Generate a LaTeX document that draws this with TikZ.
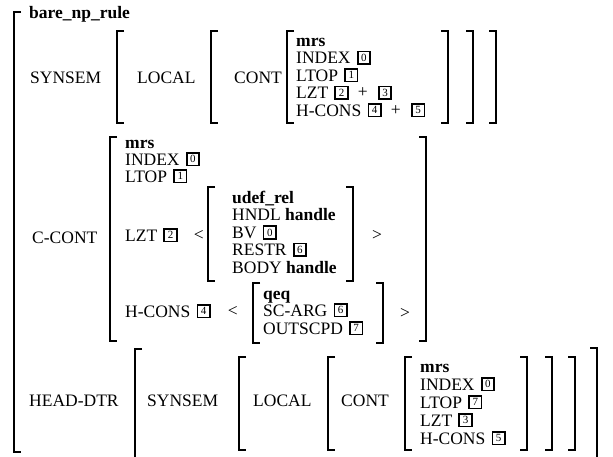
\documentclass[tikz,border=0pt]{standalone}
\usepackage{fontspec}
\setmainfont{Liberation Serif}
\usetikzlibrary{positioning}

\begin{document}
\begin{tikzpicture}[
  x=1pt, y=-1pt,
  feat/.style={inner sep=0pt, anchor=base west, font=\fontsize{17.5}{20}\selectfont},
  typ/.style={feat, font=\fontsize{17.5}{20}\selectfont\bfseries},
  sym/.style={inner sep=0pt, font=\fontsize{17.5}{20}\selectfont},
  tag/.style={draw, line width=1.7pt, inner sep=0pt, minimum size=12.5pt,
              font=\fontsize{11}{11}\selectfont},
  brk/.style={line width=1.8pt},
]
\useasboundingbox (0,0) rectangle (613,456);

% outer matrix
\draw[brk] (21,12) -| (14,452) -- ++(7,0);
\node[typ] (rule) at (29,18) {bare\_np\_rule};

% SYNSEM row
\node[feat] (syn1) at (30,83) {SYNSEM};
\node[feat] (loc1) at (137,83) {LOCAL};
\node[feat] (cont1) at (234,83) {CONT};
\draw[brk] (124,31) -| (117,123) -- ++(7,0);
\draw[brk] (218,31) -| (211,123) -- ++(7,0);
\draw[brk] (294,31) -| (287,123) -- ++(7,0);
\draw[brk] (441,31) -| (448,123) -- ++(-7,0);
\draw[brk] (466,31) -| (473,123) -- ++(-7,0);
\draw[brk] (489,31) -| (496,123) -- ++(-7,0);
\node[typ] (mrs1) at (296,46) {mrs};
\node[feat] (idx1) at (296,63.5) {INDEX};
\node[tag, right=6pt of idx1] (ta0) {0};
\node[feat] (ltop1) at (296,81) {LTOP};
\node[tag, right=6pt of ltop1] (ta1) {1};
\node[feat] (lzt1) at (296,98.5) {LZT};
\node[tag, right=6pt of lzt1] (ta2) {2};
\node[sym, right=9pt of ta2] (pa1) {+};
\node[tag, right=10pt of pa1] (ta3) {3};
\node[feat] (hc1) at (296,116) {H-CONS};
\node[tag, right=6pt of hc1] (ta4) {4};
\node[sym, right=9pt of ta4] (pa2) {+};
\node[tag, right=10pt of pa2] (ta5) {5};

% C-CONT row
\node[feat] (ccont) at (32,243) {C-CONT};
\draw[brk] (117,137) -| (110,341) -- ++(7,0);
\draw[brk] (419,137) -| (426,341) -- ++(-7,0);
\node[typ] (mrs2) at (125,148) {mrs};
\node[feat] (idx2) at (125,165) {INDEX};
\node[tag, right=6pt of idx2] (tb0) {0};
\node[feat] (ltop2) at (125,182) {LTOP};
\node[tag, right=6pt of ltop2] (tb1) {1};
\node[feat] (lzt2) at (125,241) {LZT};
\node[tag, right=6pt of lzt2] (tb2) {2};
\node[sym, right=16pt of tb2] (lt1) {<};
\draw[brk] (215,187) -| (208,281) -- ++(7,0);
\draw[brk] (346,187) -| (353,281) -- ++(-7,0);
\node[typ] (udef) at (232,203) {udef\_rel};
\node[feat] (hndl) at (232,220.5) {HNDL \textbf{handle}};
\node[feat] (bv) at (232,238) {BV};
\node[tag, right=6pt of bv] (tb0b) {0};
\node[feat] (restr) at (232,255.5) {RESTR};
\node[tag, right=6pt of restr] (tb6) {6};
\node[feat] (body) at (232,273) {BODY \textbf{handle}};
\node[sym] (gt1) at (377,235) {>};
\node[feat] (hc2) at (125,317) {H-CONS};
\node[tag, right=6pt of hc2] (tb4) {4};
\node[sym, right=17pt of tb4] (lt2) {<};
\draw[brk] (260,283) -| (253,343) -- ++(7,0);
\draw[brk] (376,283) -| (383,343) -- ++(-7,0);
\node[typ] (qeq) at (263,299) {qeq};
\node[feat] (scarg) at (263,316) {SC-ARG};
\node[tag, right=6pt of scarg] (tb6b) {6};
\node[feat] (outs) at (263,334) {OUTSCPD};
\node[tag, right=6pt of outs] (tb7) {7};
\node[sym] (gt2) at (405,313) {>};

% HEAD-DTR row
\node[feat] (hd) at (29,406) {HEAD-DTR};
\draw[brk] (142,349) -| (135,457);
\draw[brk] (590,348) -| (597,457);
\node[feat] (syn3) at (147,406) {SYNSEM};
\node[feat] (loc3) at (253,406) {LOCAL};
\node[feat] (cont3) at (341,406) {CONT};
\draw[brk] (246,357) -| (239,450) -- ++(7,0);
\draw[brk] (335,357) -| (328,450) -- ++(7,0);
\draw[brk] (412,357) -| (405,450) -- ++(7,0);
\draw[brk] (520,357) -| (527,450) -- ++(-7,0);
\draw[brk] (545,357) -| (552,450) -- ++(-7,0);
\draw[brk] (568,357) -| (575,450) -- ++(-7,0);
\node[typ] (mrs3) at (420,372) {mrs};
\node[feat] (idx3) at (420,390) {INDEX};
\node[tag, right=6pt of idx3] (tc0) {0};
\node[feat] (ltop3) at (420,408) {LTOP};
\node[tag, right=6pt of ltop3] (tc7) {7};
\node[feat] (lzt3) at (420,426) {LZT};
\node[tag, right=6pt of lzt3] (tc3) {3};
\node[feat] (hc3) at (420,444) {H-CONS};
\node[tag, right=6pt of hc3] (tc5) {5};
\end{tikzpicture}
\end{document}
